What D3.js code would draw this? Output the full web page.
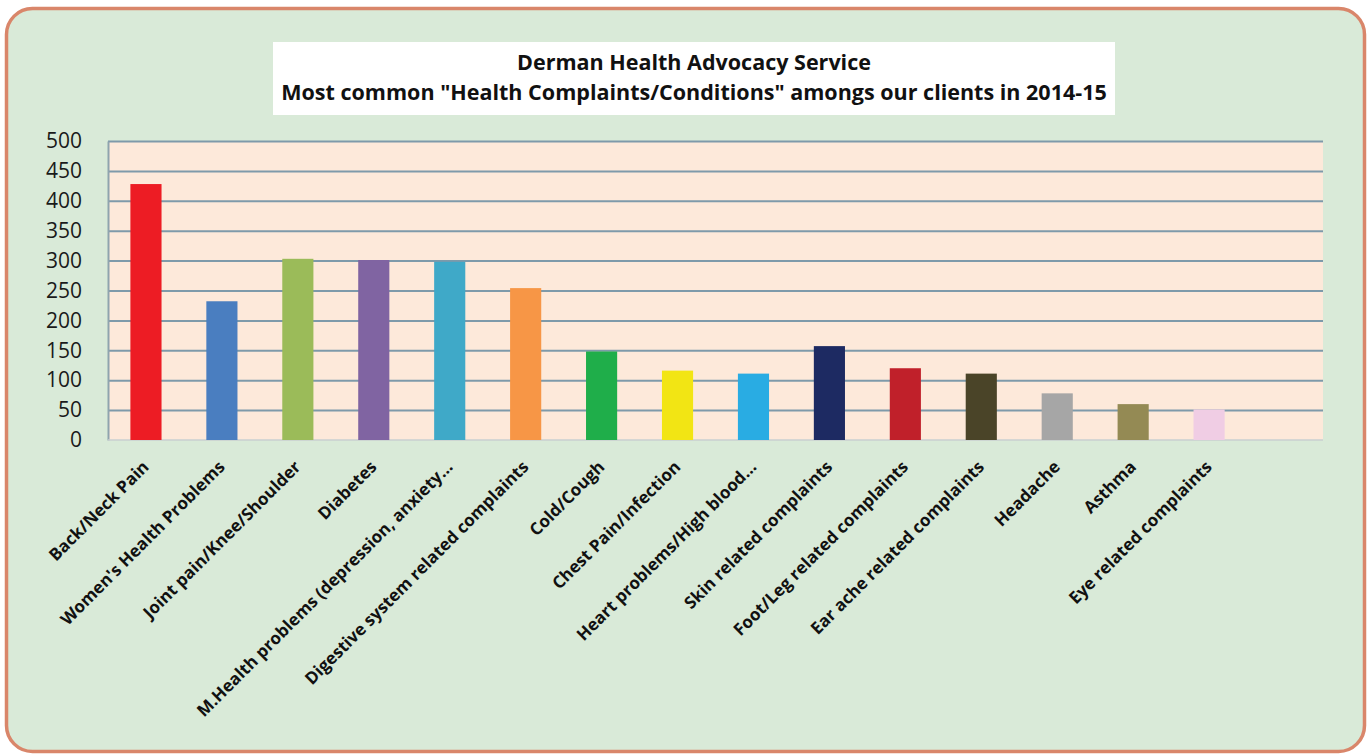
<!DOCTYPE html>
<html>
<head>
<meta charset="utf-8">
<script src="https://cdn.jsdelivr.net/npm/d3@7"></script>
<style>
  body { margin: 0; background: #ffffff; }
  svg { display: block; }
</style>
</head>
<body>
<script>
// data
var categories = ["Back/Neck Pain", "Women's Health Problems", "Joint pain/Knee/Shoulder", "Diabetes",
    "M.Health problems (depression, anxiety\u2026", "Digestive system related complaints", "Cold/Cough",
    "Chest Pain/Infection", "Heart problems/High blood\u2026", "Skin related complaints",
    "Foot/Leg related complaints", "Ear ache related complaints", "Headache", "Asthma", "Eye related complaints"];
var counts = [428, 232, 303, 301, 298, 254, 148, 116, 111, 157, 120, 111, 78, 60, 51];
var barColors = ["#ed1c24", "#4a7ec0", "#9bbb59", "#8064a2", "#3fa9c8", "#f79646", "#1fae4a", "#f2e514",
    "#29ace3", "#1d2a62", "#c0202a", "#4a4428", "#a6a6a6", "#948a54", "#f0cde4"];
var yTicks = [0, 50, 100, 150, 200, 250, 300, 350, 400, 450, 500];
var titleLines = ["Derman Health Advocacy Service",
    "Most common \"Health Complaints/Conditions\" amongs our clients in 2014-15"];

var W = 1371, H = 755;
var plot = {left: 108, top: 141, right: 1323, bottom: 440};

var svg = d3.select("body").append("svg")
    .attr("width", W)
    .attr("height", H);

// outer rounded frame
svg.append("rect")
    .attr("x", 6.5).attr("y", 8.5)
    .attr("width", 1358).attr("height", 743)
    .attr("rx", 26).attr("ry", 26)
    .attr("fill", "#d9ead8")
    .attr("stroke", "#d9866a")
    .attr("stroke-width", 3.5);

// title box
svg.append("rect")
    .attr("x", 273).attr("y", 42)
    .attr("width", 842).attr("height", 73)
    .attr("fill", "#ffffff");

var titles = svg.selectAll(".title")
    .data(titleLines)
    .enter()
    .append("text")
    .attr("class", "title")
    .attr("x", 694)
    .attr("y", function(d, i) { return 70 + i * 30; })
    .attr("text-anchor", "middle")
    .attr("font-family", "'Open Sans', sans-serif")
    .attr("font-weight", "bold")
    .attr("font-size", "20px")
    .attr("fill", "#111")
    .text(function(d) { return d; });

// size the title so the long line spans the box like the original
var longLen = titles.nodes()[1].getComputedTextLength();
titles.attr("font-size", (20 * 826 / longLen) + "px");

// scales (one empty slot after the last bar, as in the original)
var x = d3.scaleBand()
    .domain(categories.concat([""]))
    .range([plot.left, plot.right])
    .paddingInner(0.59)
    .paddingOuter(0.295);

var y = d3.scaleLinear()
    .domain([0, 500])
    .range([plot.bottom, plot.top]);

// plot background
svg.append("rect")
    .attr("x", plot.left).attr("y", plot.top)
    .attr("width", plot.right - plot.left)
    .attr("height", plot.bottom - plot.top)
    .attr("fill", "#fde9da");

// gridlines
svg.append("g")
    .attr("class", "grid")
    .attr("transform", "translate(" + plot.left + ",0)")
    .call(d3.axisLeft(y).tickValues(yTicks.slice(1)).tickSize(-(plot.right - plot.left)).tickFormat(""))
    .call(function(g) { g.select(".domain").remove(); })
    .selectAll("line")
    .attr("stroke", "#7e9aaa")
    .attr("stroke-width", 2);

// y axis
var yAxis = svg.append("g")
    .attr("transform", "translate(" + plot.left + ",0)")
    .call(d3.axisLeft(y).tickValues(yTicks).tickSize(0).tickPadding(26));
yAxis.select(".domain")
    .attr("stroke", "#8fa4ae")
    .attr("stroke-width", 2);
yAxis.selectAll("text")
    .attr("font-family", "'Open Sans', sans-serif")
    .attr("font-size", "21px")
    .attr("fill", "#1a1a1a");

// baseline
svg.append("line")
    .attr("x1", plot.left).attr("x2", plot.right)
    .attr("y1", plot.bottom).attr("y2", plot.bottom)
    .attr("stroke", "#c9cfd0")
    .attr("stroke-width", 1.5);

// bars
svg.selectAll(".bar")
    .data(counts)
    .enter()
    .append("rect")
    .attr("class", "bar")
    .attr("x", function(d, i) { return x(categories[i]); })
    .attr("y", function(d) { return y(d); })
    .attr("width", x.bandwidth())
    .attr("height", function(d) { return y(0) - y(d); })
    .attr("fill", function(d, i) { return barColors[i]; });

// category labels, rotated
svg.selectAll(".xlabel")
    .data(categories)
    .enter()
    .append("text")
    .attr("class", "xlabel")
    .attr("transform", function(d) {
        var cx = x(d) + x.bandwidth() / 2 + 4;
        return "translate(" + cx + "," + 468 + ") rotate(-45)";
    })
    .attr("text-anchor", "end")
    .attr("font-family", "'Open Sans', sans-serif")
    .attr("font-weight", "bold")
    .attr("font-size", "17px")
    .attr("fill", "#111")
    .text(function(d) { return d; });
</script>
</body>
</html>
